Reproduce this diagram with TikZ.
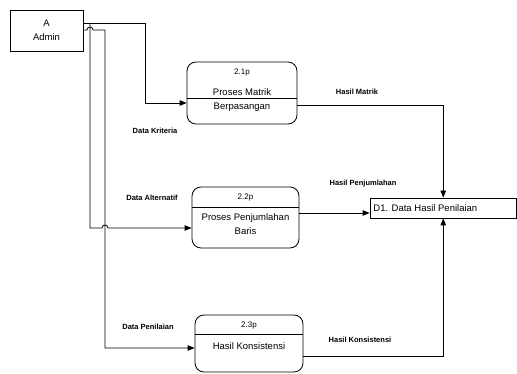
\documentclass[tikz,border=0pt]{standalone}
\usepackage{fontspec}
\setmainfont{Liberation Sans}
\usetikzlibrary{arrows.meta,calc}
\begin{document}
\begin{tikzpicture}[x=1pt,y=-1pt,line width=0.8pt,
  flow/.style={draw=black,-{Triangle[length=7pt,width=5.5pt]}},
  lbl/.style={font=\fontsize{7.5}{9}\selectfont\bfseries,inner sep=0pt},
  txt/.style={font=\fontsize{9.5}{11}\selectfont,inner sep=0pt},
  small/.style={font=\fontsize{8}{9}\selectfont,inner sep=0pt},
  ent/.style={draw,inner sep=0pt},
  proc/.style={draw,rounded corners=9pt,inner sep=0pt},
  store/.style={draw,inner sep=0pt}]
\useasboundingbox (0,0) rectangle (517,374);
% entity
\node[ent,minimum width=73pt,minimum height=41pt,align=center,font=\fontsize{9.5}{14}\selectfont] (admin) at (46.5,30.5) {A\\Admin};
% processes
\node[proc,minimum width=110pt,minimum height=62pt] (p21) at (242,93) {};
\draw ($(p21.west)+(0,5)$) -- ($(p21.east)+(0,5)$);
\node[small] (t21) at (242,73) {2.1p};
\node[txt] (n21a) at (242,92) {Proses Matrik};
\node[txt] (n21b) at (242,107) {Berpasangan};
\node[proc,minimum width=107pt,minimum height=61pt] (p22) at (245.5,217.5) {};
\draw ($(p22.west)+(0,-10.5)$) -- ($(p22.east)+(0,-10.5)$);
\node[small] (t22) at (245.5,198) {2.2p};
\node[txt] (n22a) at (245.5,218) {Proses Penjumlahan};
\node[txt] (n22b) at (245.5,231) {Baris};
\node[proc,minimum width=108pt,minimum height=57pt] (p23) at (249,343.5) {};
\draw ($(p23.west)+(0,-9.5)$) -- ($(p23.east)+(0,-9.5)$);
\node[small] (t23) at (249,326) {2.3p};
\node[txt] (n23a) at (249,346) {Hasil Konsistensi};
% data store
\node[store,minimum width=146.5pt,minimum height=20pt] (d1) at (443.25,208) {};
\node[txt,anchor=west] (d1t) at (373,208) {D1. Data Hasil Penilaian};
% connectors
\coordinate (j1) at (90,23);
\draw[flow] ([yshift=7.5pt]admin.east) -| (145,103) -- ([yshift=-10pt]p21.west);
\draw[flow] (j1) -- (90,228) -- (102,228) arc[start angle=180,end angle=0,radius=3pt] -- ([yshift=-10.5pt]p22.west);
\draw[flow] ([yshift=0.5pt]admin.east) -- (87,30) arc[start angle=180,end angle=0,radius=3pt] -- (105,30) -- (105,348) -- ([yshift=-4.5pt]p23.west);
\draw[flow] ([yshift=-12pt]p21.east) -| (d1.north);
\draw[flow] ([yshift=4.5pt]p22.east) -- ([yshift=-5pt]d1.west);
\draw[flow] ([yshift=-12.5pt]p23.east) -| (d1.south);
% labels
\node[lbl] (l1) at (155,131) {Data Kriteria};
\node[lbl] (l2) at (152,198) {Data Alternatif};
\node[lbl] (l3) at (148,327) {Data Penilaian};
\node[lbl] (l4) at (357,92) {Hasil Matrik};
\node[lbl] (l5) at (363,184) {Hasil Penjumlahan};
\node[lbl] (l6) at (360,340) {Hasil Konsistensi};
\end{tikzpicture}
\end{document}
